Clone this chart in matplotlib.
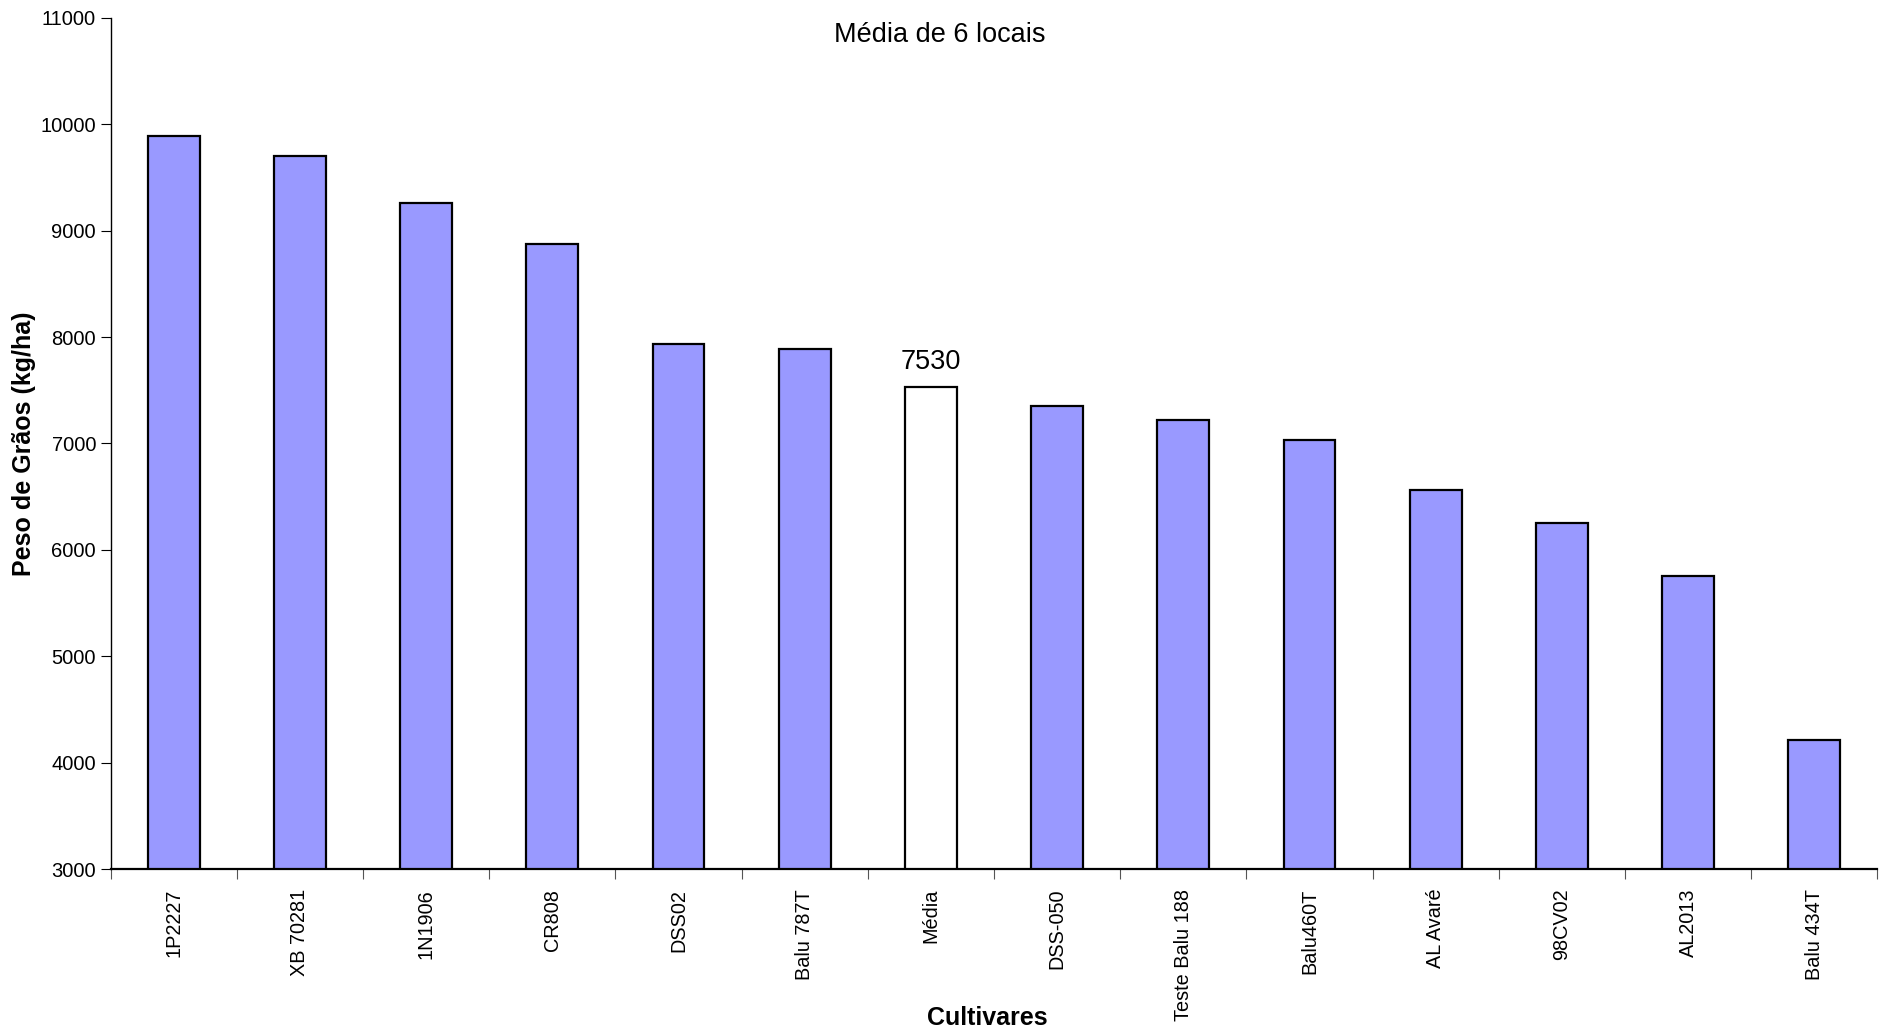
import matplotlib
matplotlib.use("Agg")
import matplotlib.pyplot as plt
import numpy as np

plt.rcParams['font.family'] = ['Liberation Sans', 'DejaVu Sans']

categories = ["1P2227", "XB 70281", "1N1906", "CR808", "DSS02", "Balu 787T", "Média",
              "DSS-050", "Teste Balu 188", "Balu460T", "AL Avaré", "98CV02", "AL2013", "Balu 434T"]
values = [9890, 9700, 9260, 8870, 7930, 7890, 7530, 7355, 7220, 7030, 6560, 6250, 5755, 4215]
mean_label = "7530"
yticks = [3000, 4000, 5000, 6000, 7000, 8000, 9000, 10000, 11000]

fig = plt.figure(figsize=(18.85, 10.35), dpi=100)
ax = fig.add_axes([0.0587, 0.160, 0.9373, 0.823])

x = np.arange(len(categories))
colors = ['white' if c == "Média" else '#9999FF' for c in categories]
ax.bar(x, np.array(values) - 3000, bottom=3000, width=0.41, color=colors,
       edgecolor='black', linewidth=1.6, zorder=3)

ax.set_xlim(-0.5, len(categories) - 0.5)
ax.set_ylim(3000, 11000)
ax.set_yticks(yticks)
ax.set_yticklabels([str(v) for v in yticks], fontsize=14.5)
ax.set_xticks(x)
ax.set_xticklabels(categories, rotation=90, fontsize=14.3)
ax.tick_params(axis='x', which='major', length=0, pad=14)
ax.set_xticks(np.arange(-0.5, len(categories) + 0.5, 1), minor=True)
ax.tick_params(axis='x', which='minor', length=7, width=0.8, color='#555555')
ax.tick_params(axis='y', length=7, width=0.8)

for s in ['top', 'right']:
    ax.spines[s].set_visible(False)
ax.spines['left'].set_linewidth(1.0)
ax.spines['bottom'].set_linewidth(1.6)

imid = categories.index("Média")
ax.text(x[imid], values[imid] + 110, mean_label, ha='center', va='bottom', fontsize=19.5)

ax.text(0.469, 0.979, "Média de 6 locais", transform=ax.transAxes, ha='center',
        va='center', fontsize=19.5)

ax.set_ylabel("Peso de Grãos (kg/ha)", fontsize=18, fontweight='bold', labelpad=3)
fig.text(0.524, 0.016, "Cultivares", ha='center', va='center', fontsize=18, fontweight='bold')

fig.savefig("out.png", dpi=100)
